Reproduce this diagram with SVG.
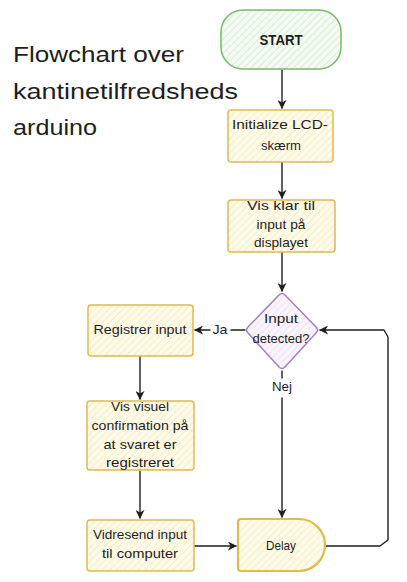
<svg xmlns="http://www.w3.org/2000/svg" width="407" height="582" viewBox="0 0 407 582">
<defs>
<pattern id="hy" patternUnits="userSpaceOnUse" width="5" height="5" patternTransform="rotate(45)">
<rect width="5" height="5" fill="#fffbea"/>
<line x1="0" y1="0" x2="0" y2="5" stroke="#f7e3a6" stroke-width="1.2"/>
</pattern>
<pattern id="hg" patternUnits="userSpaceOnUse" width="5" height="5" patternTransform="rotate(45)">
<rect width="5" height="5" fill="#f3fbf2"/>
<line x1="0" y1="0" x2="0" y2="5" stroke="#c4e6bf" stroke-width="1.2"/>
</pattern>
<pattern id="hp" patternUnits="userSpaceOnUse" width="5" height="5" patternTransform="rotate(45)">
<rect width="5" height="5" fill="#faf5fc"/>
<line x1="0" y1="0" x2="0" y2="5" stroke="#e6d6ee" stroke-width="1.2"/>
</pattern>
<marker id="ah" viewBox="0 0 10 10" refX="9" refY="5" markerWidth="9" markerHeight="9" markerUnits="userSpaceOnUse" orient="auto">
<path d="M0,0 L10,5 L0,10 L3,5 Z" fill="#1e1e1e"/>
</marker>
<style>
.t{font-family:"Liberation Sans","DejaVu Sans",sans-serif;font-size:13px;fill:#1e1e1e;text-anchor:middle}
.title{font-family:"Liberation Sans","DejaVu Sans",sans-serif;font-size:22px;fill:#1e1e1e}
.y{fill:url(#hy);stroke:#e0bb52;stroke-width:1.5}
.c{fill:none;stroke:#1e1e1e;stroke-width:1.4;stroke-linecap:round;stroke-linejoin:round}
</style>
</defs>
<g id="title">
<text class="title" x="13" y="62" textLength="171" lengthAdjust="spacingAndGlyphs">Flowchart over</text>
<text class="title" x="13" y="99" textLength="225" lengthAdjust="spacingAndGlyphs">kantinetilfredsheds</text>
<text class="title" x="13" y="135" textLength="84" lengthAdjust="spacingAndGlyphs">arduino</text>
</g>
<g id="connectors">
<path class="c" d="M282,70 L282,108" marker-end="url(#ah)"/>
<path class="c" d="M282,162 L282,198" marker-end="url(#ah)"/>
<path class="c" d="M282,252 L282,291" marker-end="url(#ah)"/>
<path class="c" d="M245,330 L231,330"/>
<path class="c" d="M210,330 L195,330" marker-end="url(#ah)"/>
<text class="t" x="220" y="334" textLength="15" lengthAdjust="spacingAndGlyphs">Ja</text>
<path class="c" d="M282,371 L282,378"/>
<text class="t" x="282" y="391" textLength="20" lengthAdjust="spacingAndGlyphs">Nej</text>
<path class="c" d="M282,398 L282,517" marker-end="url(#ah)"/>
<path class="c" d="M140,356 L140,399" marker-end="url(#ah)"/>
<path class="c" d="M140,471 L140,518" marker-end="url(#ah)"/>
<path class="c" d="M194,546 L236,546" marker-end="url(#ah)"/>
<path class="c" d="M326,546 L380,546 L388,540 L388,337 L384,330 L320,330" marker-end="url(#ah)"/>
</g>
<g id="start">
<rect x="221" y="10" width="120" height="59" rx="22" fill="url(#hg)" stroke="#78bb6a" stroke-width="1.5"/>
<text class="t" x="281" y="45" style="font-weight:bold;font-size:14px" textLength="43" lengthAdjust="spacingAndGlyphs">START</text>
</g>
<g id="init">
<rect class="y" x="228" y="110" width="105" height="52" rx="3"/>
<text class="t" x="280" y="129" textLength="96" lengthAdjust="spacingAndGlyphs">Initialize LCD-</text>
<text class="t" x="281" y="150" textLength="40" lengthAdjust="spacingAndGlyphs">skærm</text>
</g>
<g id="visklar">
<rect class="y" x="228" y="200" width="107" height="52" rx="3"/>
<text class="t" x="281" y="210" textLength="68" lengthAdjust="spacingAndGlyphs">Vis klar til</text>
<text class="t" x="281" y="229" textLength="49" lengthAdjust="spacingAndGlyphs">input på</text>
<text class="t" x="281" y="247" textLength="54" lengthAdjust="spacingAndGlyphs">displayet</text>
</g>
<g id="decision">
<path d="M279,295 Q282,292 285,295 L316,327 Q319,330 316,333 L285,367 Q282,370 279,367 L248,333 Q245,330 248,327 Z" fill="url(#hp)" stroke="#a27fc0" stroke-width="1.5"/>
<text class="t" x="281" y="323" textLength="34" lengthAdjust="spacingAndGlyphs">Input</text>
<text class="t" x="281" y="343" textLength="57" lengthAdjust="spacingAndGlyphs">detected?</text>
</g>
<g id="registrer">
<rect class="y" x="88" y="305" width="105" height="51" rx="3"/>
<text class="t" x="140" y="334" textLength="93" lengthAdjust="spacingAndGlyphs">Registrer input</text>
</g>
<g id="visvisuel">
<rect class="y" x="87" y="401" width="107" height="69" rx="3"/>
<text class="t" x="140" y="411" textLength="58" lengthAdjust="spacingAndGlyphs">Vis visuel</text>
<text class="t" x="140" y="430" textLength="97" lengthAdjust="spacingAndGlyphs">confirmation på</text>
<text class="t" x="140" y="449" textLength="73" lengthAdjust="spacingAndGlyphs">at svaret er</text>
<text class="t" x="140" y="467" textLength="68" lengthAdjust="spacingAndGlyphs">registreret</text>
</g>
<g id="vidresend">
<rect class="y" x="87" y="520" width="107" height="51" rx="3"/>
<text class="t" x="140" y="539" textLength="94" lengthAdjust="spacingAndGlyphs">Vidresend input</text>
<text class="t" x="140" y="558" textLength="76" lengthAdjust="spacingAndGlyphs">til computer</text>
</g>
<g id="delay">
<path d="M241,519 L299,519 A26,26 0 0 1 299,571 L241,571 Q238,571 238,568 L238,522 Q238,519 241,519 Z" fill="url(#hy)" stroke="#e0bb52" stroke-width="2.2"/>
<text class="t" x="281" y="550" textLength="30" lengthAdjust="spacingAndGlyphs">Delay</text>
</g>
</svg>
